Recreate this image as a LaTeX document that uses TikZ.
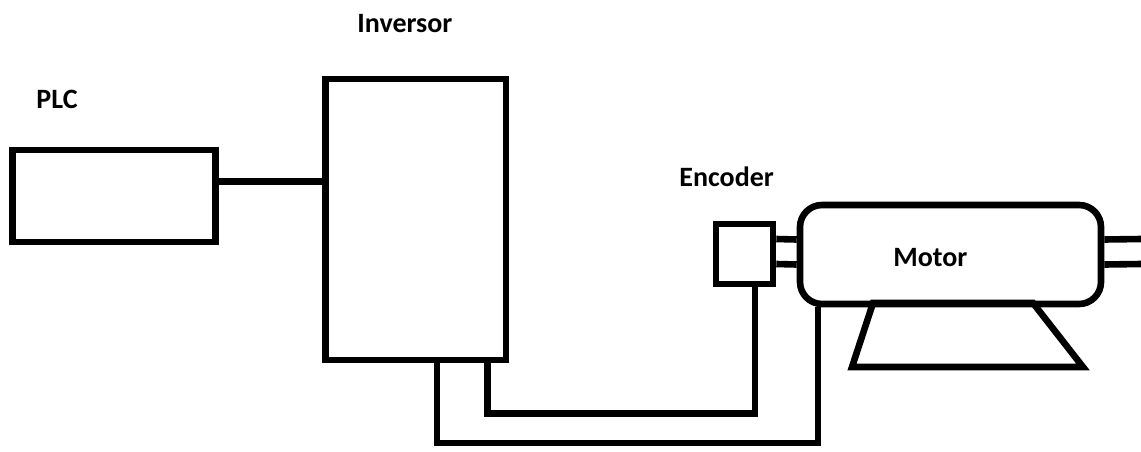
\documentclass[tikz,border=0pt]{standalone}
\usepackage{fontspec}
\setmainfont{Carlito}
\usepackage{tikz}
\usetikzlibrary{positioning,calc}
\tikzset{
  blockbox/.style={
    rectangle, draw=black, line width=3.3pt, fill=white,
    inner sep=0pt, align=center,
  },
  motorbox/.style={
    blockbox, rounded corners=11pt,
  },
  tagtext/.style={
    inner sep=0pt, anchor=base west, font=\fontsize{14pt}{16pt}\selectfont\bfseries,
  },
  wire/.style={
    line width=3.3pt, draw=black, line cap=butt, line join=miter,
  },
}

\begin{document}
\begin{tikzpicture}[x=0.5pt,y=-0.5pt]
\useasboundingbox (0,0) rectangle (1141,451);

% blocks
\node[blockbox, minimum width=101.5pt, minimum height=46pt] (plc) at (114,196) {};
\node[blockbox, minimum width=90.25pt, minimum height=140.5pt] (inv) at (415.75,219.5) {};
\node[blockbox, minimum width=28.5pt, minimum height=30pt] (enc) at (744.5,254) {};
\node[motorbox, minimum width=150.5pt, minimum height=49.5pt] (mot) at (950.5,254.5) {};

% labels
\node[tagtext] (plcLbl) at (36,108) {PLC};
\node[tagtext] (invLbl) at (357,32) {Inversor};
\node[tagtext] (encLbl) at (679,186) {Encoder};
\node[tagtext] (motLbl) at (893,266) {Motor};

% shafts
\coordinate (shaftEnd) at (1141,254);
\draw[wire] ([yshift=7.5pt]enc.east) -- ([yshift=7.5pt]mot.west);
\draw[wire] ([yshift=-5pt]enc.east) -- ([yshift=-5pt]mot.west);
\draw[wire] ([yshift=7.5pt]mot.east) -- ([yshift=7.5pt]shaftEnd);
\draw[wire] ([yshift=-5pt]mot.east) -- ([yshift=-5pt]shaftEnd);

% base
\draw[wire] (873,303) -- (1033,303) -- (1083,367) -- (852,367) -- cycle;

% connections
\coordinate (plcOut) at ([yshift=7.15pt]plc.east);
\coordinate (encBend) at (487.5,413.5);
\coordinate (motBend) at (437,443);
\draw[wire] (plcOut) -- (inv.west |- plcOut);
\draw[wire] (inv.south -| encBend) -- (encBend) -| ([xshift=5.25pt]enc.south);
\draw[wire] (inv.south -| motBend) -- (motBend) -| ([xshift=-66.25pt]mot.south);

\end{tikzpicture}
\end{document}
